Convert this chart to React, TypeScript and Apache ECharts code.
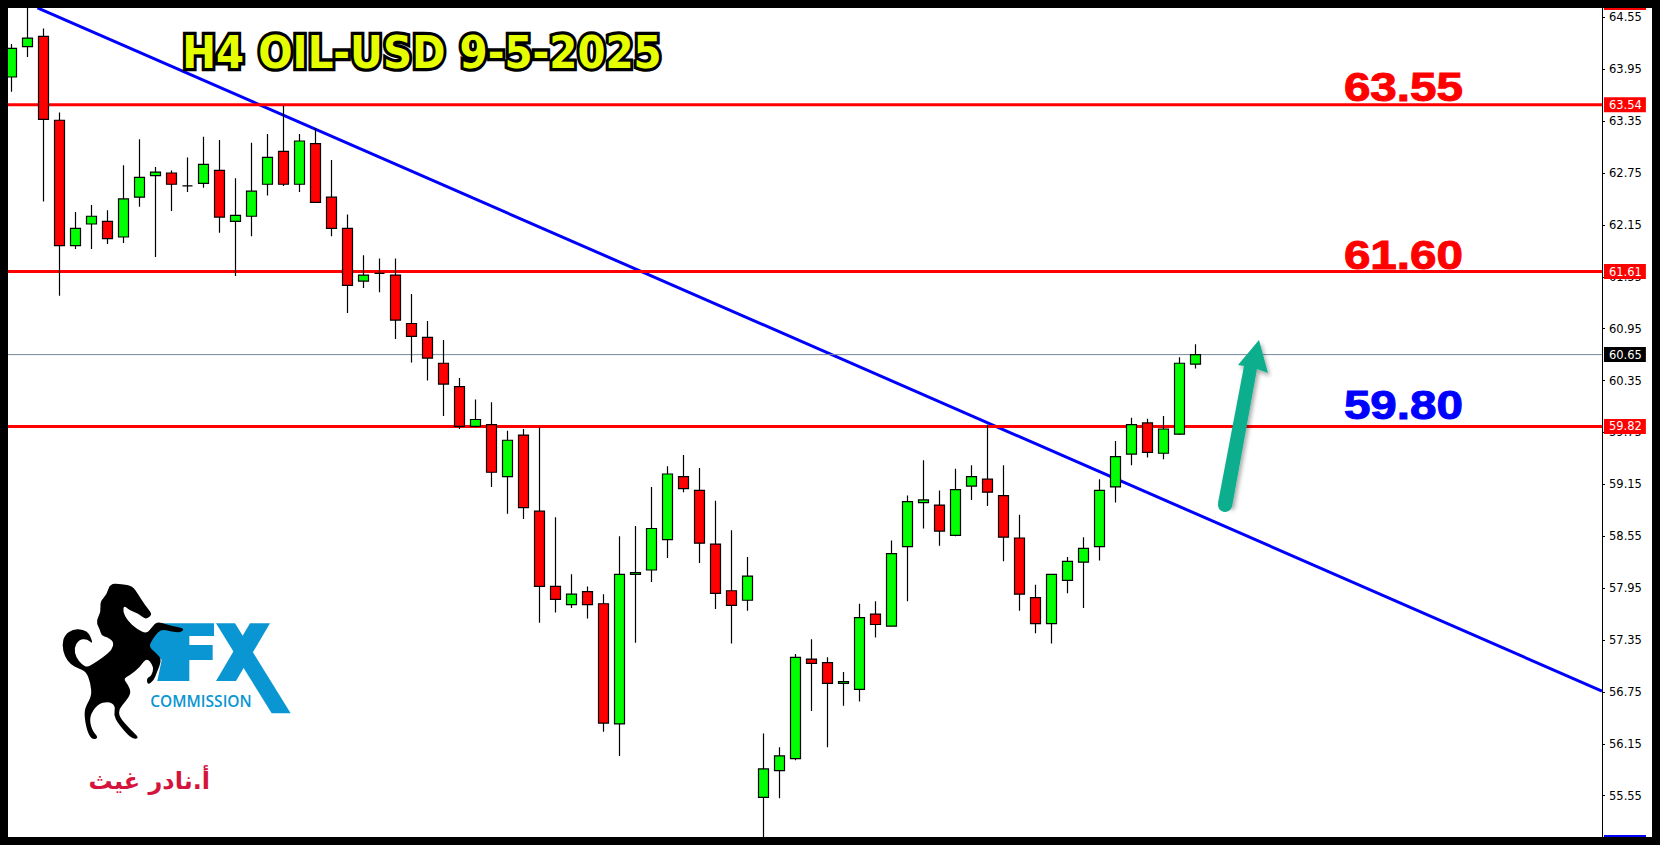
import React, { useEffect, useRef } from "react";
import * as echarts from "echarts";

// candle data: [open, close, low, high]
const candles: number[][] = [
  [63.86, 64.19, 63.69, 64.24], [64.21, 64.31, 64.09, 64.75], [64.33, 63.37, 62.42, 64.42], [63.36, 61.91, 61.33, 63.45],
  [61.91, 62.11, 61.87, 62.3], [62.16, 62.25, 61.87, 62.38], [62.19, 61.99, 61.93, 62.32], [62.01, 62.45, 61.94, 62.84],
  [62.47, 62.7, 62.36, 63.14], [62.72, 62.76, 61.78, 62.82], [62.75, 62.62, 62.31, 62.78], [62.6, 62.6, 62.53, 62.93],
  [62.63, 62.85, 62.58, 63.17], [62.78, 62.24, 62.06, 63.13], [62.19, 62.26, 61.56, 62.69], [62.25, 62.54, 62.02, 63.1],
  [62.62, 62.93, 62.49, 63.2], [63.0, 62.62, 62.6, 63.53], [62.62, 63.12, 62.53, 63.2], [63.09, 62.41, 62.41, 63.27],
  [62.47, 62.11, 62.02, 62.9], [62.11, 61.45, 61.13, 62.27], [61.5, 61.57, 61.42, 61.8], [61.59, 61.59, 61.37, 61.76],
  [61.57, 61.05, 60.83, 61.76], [61.01, 60.86, 60.56, 61.35], [60.85, 60.61, 60.35, 61.04], [60.55, 60.31, 59.94, 60.82],
  [60.28, 59.82, 59.79, 60.38], [59.82, 59.9, 59.81, 60.13], [59.84, 59.29, 59.12, 60.1], [59.24, 59.66, 58.81, 59.77],
  [59.72, 58.88, 58.75, 59.79], [58.84, 57.97, 57.55, 59.81], [57.97, 57.82, 57.67, 58.77], [57.76, 57.88, 57.72, 58.11],
  [57.91, 57.76, 57.6, 57.97], [57.77, 56.39, 56.29, 57.88], [56.38, 58.11, 56.01, 58.55], [58.11, 58.13, 57.32, 58.67],
  [58.16, 58.64, 58.02, 59.12], [58.51, 59.27, 58.3, 59.36], [59.24, 59.1, 59.06, 59.49], [59.08, 58.47, 58.24, 59.34],
  [58.46, 57.89, 57.71, 58.96], [57.92, 57.75, 57.31, 58.62], [57.81, 58.09, 57.69, 58.31], [55.53, 55.86, 55.05, 56.27],
  [55.84, 56.01, 55.52, 56.11], [55.98, 57.15, 55.96, 57.19], [57.13, 57.08, 56.53, 57.36], [57.09, 56.85, 56.11, 57.15],
  [56.85, 56.87, 56.59, 56.98], [56.78, 57.61, 56.64, 57.77], [57.65, 57.53, 57.38, 57.8], [57.51, 58.35, 57.51, 58.5],
  [58.43, 58.95, 57.8, 59.02], [58.94, 58.97, 58.64, 59.43], [58.91, 58.61, 58.44, 59.08], [58.56, 59.09, 58.55, 59.33],
  [59.13, 59.24, 58.97, 59.37], [59.21, 59.06, 58.9, 59.84], [59.02, 58.54, 58.26, 59.37], [58.53, 57.88, 57.69, 58.8],
  [57.84, 57.54, 57.43, 57.99], [57.54, 58.11, 57.31, 58.11], [58.04, 58.26, 57.89, 58.31], [58.25, 58.41, 57.72, 58.54],
  [58.43, 59.08, 58.27, 59.21], [59.12, 59.47, 58.94, 59.65], [59.5, 59.84, 59.37, 59.92], [59.86, 59.52, 59.46, 59.91],
  [59.51, 59.79, 59.44, 59.94], [59.73, 60.55, 59.72, 60.62], [60.54, 60.65, 60.49, 60.77],
];
const barSlots = 100;
const categories = Array.from({ length: barSlots }, (_, i) => String(i));
const priceTicks = [64.55, 63.95, 63.35, 62.75, 62.15, 61.55, 60.95, 60.35, 59.75, 59.15, 58.55, 57.95, 57.35, 56.75, 56.15, 55.55];
const levelPrices = [63.54, 61.61, 59.82];
const currentPrice = 60.65;
const trendIndex = [1.63, 99.41];
const trendPrice = [64.66, 56.76];
const levelNotes = [
  { text: "63.55", color: "#ff0000", y: 87 },
  { text: "61.60", color: "#ff0000", y: 255 },
  { text: "59.80", color: "#0000ff", y: 405 },
];

const horseOutline = [
  [180, 40], [215, 42], [248, 48], [264, 72], [285, 105], [306, 130], [300, 141], [285, 148], [265, 130], [240, 122], [222, 106],
  [219, 125], [232, 152], [262, 178], [290, 192], [306, 172], [322, 154], [350, 165], [385, 171], [404, 178], [390, 188], [365, 185],
  [340, 178], [325, 186], [310, 205], [296, 230], [320, 250], [336, 270], [320, 310], [312, 331], [293, 346], [290, 324], [305, 318],
  [312, 290], [290, 262], [270, 292], [240, 316], [220, 326], [235, 345], [244, 370], [226, 396], [208, 416], [207, 440], [240, 478],
  [270, 505], [245, 508], [205, 462], [191, 436], [197, 408], [175, 394], [142, 404], [118, 440], [125, 480], [147, 505], [125, 510],
  [110, 480], [102, 430], [110, 404], [125, 378], [122, 340], [108, 304], [85, 296], [62, 284], [44, 260], [36, 225], [44, 195],
  [70, 177], [100, 179], [118, 190], [130, 224], [110, 206], [86, 210], [72, 235], [78, 262], [96, 284], [112, 292], [130, 282],
  [160, 262], [186, 240], [192, 216], [172, 202], [155, 198], [150, 180], [138, 155], [153, 125], [150, 95], [170, 75],
];
const smoothPath = (pts: number[][]) => {
  const mid = (a: number[], b: number[]) => [(a[0] + b[0]) / 2, (a[1] + b[1]) / 2];
  const start = mid(pts[pts.length - 1], pts[0]);
  let d = `M${start[0]} ${start[1]}`;
  pts.forEach((p, i) => {
    const m = mid(p, pts[(i + 1) % pts.length]);
    d += ` Q${p[0]} ${p[1]} ${m[0]} ${m[1]}`;
  });
  return d + " Z";
};
echarts.graphic.registerShape("horse", echarts.graphic.extendPath(smoothPath(horseOutline), {}));

const BLUE = "#0a96d2";
const TEAL = "#0cae8d";
const logoPt = (pts: number[][]) => pts.map(([x, y]) => [50 + x / 3, 570 + y / 3]);
const frame = (x: number, y: number, width: number, height: number, fill = "#000") => ({
  type: "rect", z: 100, shape: { x, y, width, height }, style: { fill },
});

const levelSeries = (price: number, bg: string, color: string, width: number) => ({
  type: "line", xAxisIndex: 1, yAxisIndex: 0, z: 1, showSymbol: false, silent: true,
  data: [[-0.5, price], [trendIndex[1], price]],
  lineStyle: { color, width },
  endLabel: {
    show: true, distance: 2, formatter: price.toFixed(2), color: "#fff", backgroundColor: bg,
    fontFamily: "DejaVu Sans", fontSize: 11.5, padding: [2, 4, 1, 5],
  },
});

export default function App() {
  const ref = useRef<HTMLDivElement>(null);
  useEffect(() => {
    const chart = echarts.init(ref.current!, undefined, { renderer: "svg" });
    chart.setOption({
      animation: false,
      backgroundColor: "#fff",
      grid: { left: 3.4, top: 8, width: 1600, height: 829 },
      xAxis: [
        { type: "category", data: categories, show: false },
        { type: "value", min: -0.5, max: barSlots - 0.5, show: false },
      ],
      yAxis: {
        type: "value", position: "right", min: 55.073, max: 64.6575, offset: -1.4, scale: true,
        splitLine: { show: false },
        axisLine: { show: true, onZero: false, lineStyle: { color: "#000", width: 1 } },
        axisTick: { show: true, customValues: priceTicks, length: 3, lineStyle: { color: "#000" } },
        axisLabel: {
          customValues: priceTicks, margin: 7, color: "#000", fontFamily: "DejaVu Sans", fontSize: 11.5,
          formatter: (v: number) => v.toFixed(2),
        },
      },
      series: [
        {
          type: "line", xAxisIndex: 1, yAxisIndex: 0, z: 1, showSymbol: false, silent: true,
          data: [[trendIndex[0], trendPrice[0]], [trendIndex[1], trendPrice[1]]],
          lineStyle: { color: "#0000ff", width: 3 },
        },
        levelSeries(currentPrice, "#000", "#778899", 1),
        ...levelPrices.map((p) => levelSeries(p, "#ff0000", "#ff0000", 3)),
        {
          type: "candlestick", xAxisIndex: 0, yAxisIndex: 0, z: 3, barWidth: 10, data: candles,
          itemStyle: {
            color: "#00ff00", color0: "#ff0000", borderColor: "#000", borderColor0: "#000",
            borderColorDoji: "#000", borderWidth: 1.2,
          },
        },
      ],
      graphic: [
        {
          type: "text", x: 422, y: 53, z: 50, scaleX: 1.01, scaleY: 1.1,
          style: {
            text: "H4 OIL-USD 9-5-2025", fill: "#e6ff00", stroke: "#000", lineWidth: 6,
            font: "bold 40px 'DejaVu Sans'", textAlign: "center", textVerticalAlign: "middle",
            shadowColor: "rgba(0,0,0,0.55)", shadowBlur: 5, shadowOffsetX: 2, shadowOffsetY: 4,
          },
        },
        ...levelNotes.map((n) => ({
          type: "text", x: 1463, y: n.y, z: 50, scaleX: 1.19,
          style: {
            text: n.text, fill: n.color, stroke: n.color, lineWidth: 1, font: "bold 40px 'Liberation Sans'",
            textAlign: "right", textVerticalAlign: "middle",
          },
        })),
        // arrow
        {
          type: "polygon", z: 50,
          shape: { points: [[1218, 503], [1232, 507], [1257, 369], [1268, 373], [1259, 340], [1238, 365], [1244, 366]] },
          style: { fill: TEAL, shadowColor: "rgba(0,0,0,0.35)", shadowBlur: 4, shadowOffsetX: 2, shadowOffsetY: 3 },
        },
        { type: "circle", z: 50, shape: { cx: 1225, cy: 505, r: 7 }, style: { fill: TEAL } },
        // logo
        {
          type: "polygon", z: 40,
          shape: { points: logoPt([[318, 160], [492, 160], [492, 198], [418, 198], [418, 225], [488, 225], [488, 270], [418, 270], [418, 333], [322, 333], [335, 270], [295, 230]]) },
          style: { fill: BLUE },
        },
        { type: "polygon", z: 40, shape: { points: logoPt([[498, 160], [555, 160], [722, 430], [665, 430]]) }, style: { fill: BLUE } },
        { type: "polygon", z: 40, shape: { points: logoPt([[600, 160], [660, 160], [558, 333], [498, 333]]) }, style: { fill: BLUE } },
        { type: "horse", x: 50, y: 570, scaleX: 1 / 3, scaleY: 1 / 3, z: 41, style: { fill: "#000" } },
        {
          type: "text", x: 201, y: 701, z: 41,
          style: { text: "COMMISSION", fill: BLUE, font: "600 15.5px 'Open Sans'", textAlign: "center", textVerticalAlign: "middle" },
        },
        {
          type: "text", x: 210, y: 781, z: 41,
          style: {
            text: "أ.نادر غيث", fill: "#d4143c", font: "bold 24px 'DejaVu Sans'", textAlign: "right", textVerticalAlign: "middle",
            shadowColor: "rgba(0,0,0,0.6)", shadowBlur: 2, shadowOffsetX: 1, shadowOffsetY: 2,
          },
        },
        // small price tags cut by the frame, then the frame itself
        frame(1604, 8, 42, 2, "#ff0000"),
        frame(1604, 835, 42, 2, "#0000ff"),
        frame(0, 0, 1660, 8),
        frame(0, 837, 1660, 8),
        frame(0, 0, 8, 845),
        frame(1652, 0, 8, 845),
      ],
    });
    return () => chart.dispose();
  }, []);
  return <div ref={ref} style={{ position: "fixed", left: 0, top: 0, width: 1660, height: 845 }} />;
}
